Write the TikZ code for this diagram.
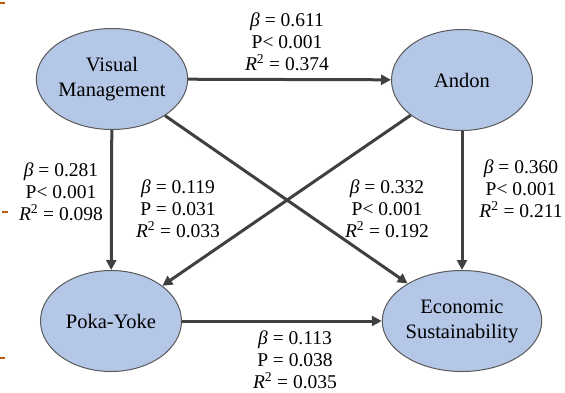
\documentclass[tikz,border=0pt]{standalone}
\usepackage{fontspec}
\setmainfont{Liberation Serif}
\newfontfamily\tnr{Liberation Serif}
\usetikzlibrary{shapes.geometric,arrows.meta}
\definecolor{nodefill}{HTML}{B4C7E7}
\definecolor{nodeline}{HTML}{595959}
\definecolor{arrowcol}{HTML}{404040}
\definecolor{tickcol}{HTML}{B85C12}
\tikzset{
  construct/.style={ellipse, draw=nodeline, line width=1pt, fill=nodefill,
    minimum width=141pt, minimum height=101pt, inner sep=0pt, align=center,
    font=\tnr\fontsize{20.5}{25}\selectfont},
  path/.style={draw=arrowcol, line width=3pt, -{Triangle[length=10pt,width=10pt]}},
  stat/.style={align=center, inner sep=0pt, font=\tnr\fontsize{19.5}{21.8}\selectfont},
  tick/.style={draw=tickcol, line width=2pt}
}
\begin{document}
\begin{tikzpicture}[x=1pt,y=-1pt]
\useasboundingbox (0,0) rectangle (565,392);
\node[construct] (vm) at (112,79) {Visual\\Management};
\node[construct] (an) at (462,80) {Andon};
\node[construct] (py) at (111,321) {Poka-Yoke};
\node[construct] (es) at (462,321) {Economic\\Sustainability};

\draw[path] (vm) -- (an);
\draw[path] (vm) -- (py);
\draw[path] (an) -- (es);
\draw[path] (py) -- (es);
\draw[path] (vm) -- (es);
\draw[path] (an) -- (py);

\node[stat] (s1) at (287,42) {\textit{β} = 0.611\\P< 0.001\\\textit{R}\textsuperscript{2} = 0.374};
\node[stat] (s2) at (61,192) {\textit{β} = 0.281\\P< 0.001\\\textit{R}\textsuperscript{2} = 0.098};
\node[stat] (s3) at (178,209) {\textit{β} = 0.119\\P = 0.031\\\textit{R}\textsuperscript{2} = 0.033};
\node[stat] (s4) at (387,209) {\textit{β} = 0.332\\P< 0.001\\\textit{R}\textsuperscript{2} = 0.192};
\node[stat] (s5) at (521,189) {\textit{β} = 0.360\\P< 0.001\\\textit{R}\textsuperscript{2} = 0.211};
\node[stat] (s6) at (295,360) {\textit{β} = 0.113\\P = 0.038\\\textit{R}\textsuperscript{2} = 0.035};

\coordinate (t1a) at (0,3); \coordinate (t1b) at (5,3);
\coordinate (t2a) at (2,212); \coordinate (t2b) at (8,212);
\coordinate (t3a) at (0,358); \coordinate (t3b) at (5,358);
\draw[tick] (t1a) -- (t1b);
\draw[tick] (t2a) -- (t2b);
\draw[tick] (t3a) -- (t3b);
\end{tikzpicture}
\end{document}
